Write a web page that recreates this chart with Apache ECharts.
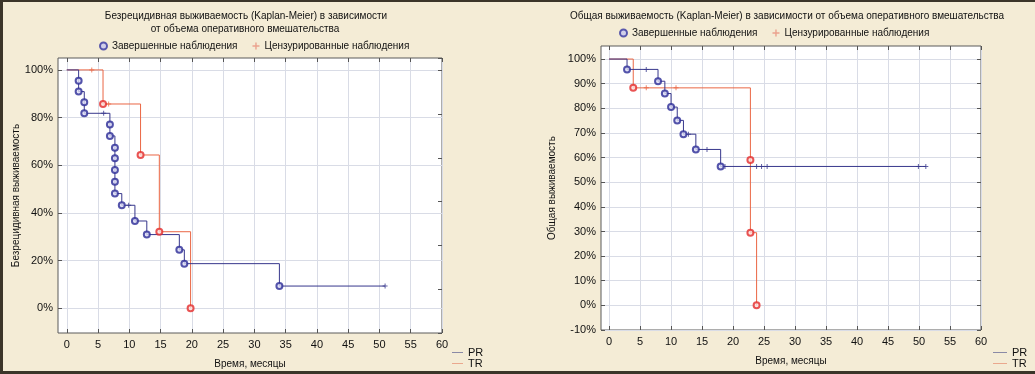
<!DOCTYPE html>
<html><head><meta charset="utf-8">
<script src="https://cdn.jsdelivr.net/npm/echarts@6/dist/echarts.min.js"></script>
<style>html,body{margin:0;padding:0;background:#f4ecd6}#c{width:1035px;height:374px}</style>
</head><body><div id="c"></div>
<script>
const FONT = '"Liberation Sans", Arial, sans-serif';

// ---- tick labels ----
const xTicks = [0, 5, 10, 15, 20, 25, 30, 35, 40, 45, 50, 55, 60];
const pfsYTicks = [0, 20, 40, 60, 80, 100];
const osYTicks = [-10, 0, 10, 20, 30, 40, 50, 60, 70, 80, 90, 100];

// ---- text ----
const pfsTitle = ['Безрецидивная выживаемость (Kaplan-Meier) в зависимости', 'от объема оперативного вмешательства'];
const osTitle = 'Общая выживаемость (Kaplan-Meier) в зависимости от объема оперативного вмешательства';
const pfsYName = 'Безрецидивная выживаемость';
const osYName = 'Общая выживаемость';
const xName = 'Время, месяцы';
const groups = ['PR', 'TR'];
const markNames = ['Завершенные наблюдения', 'Цензурированные наблюдения'];

// ---- Left: disease-free survival, % ----
const pfsPREvents = [[1.9, 95.5], [1.9, 90.9], [2.8, 86.4], [2.8, 81.8], [6.9, 77.1], [6.9, 72.3],
  [7.7, 67.3], [7.7, 62.9], [7.7, 58.0], [7.7, 53.1], [7.7, 48.1], [8.8, 43.2], [10.9, 36.6],
  [12.8, 30.9], [18.0, 24.5], [18.8, 18.7], [34.0, 9.3]];
const pfsPRCensored = [[5.9, 81.8], [9.9, 43.2], [50.9, 9.3]];
const pfsTREvents = [[5.8, 85.7], [11.8, 64.3], [14.8, 32.1], [19.8, 0]];
const pfsTRCensored = [[4.0, 100], [6.7, 85.7]];

// ---- Right: overall survival, % ----
const osPREvents = [[2.9, 95.8], [7.9, 91.0], [9.0, 86.0], [10.0, 80.5], [11.0, 75.1], [12.0, 69.5],
  [14.0, 63.3], [18.0, 56.4]];
const osPRCensored = [[6.0, 95.8], [12.8, 69.5], [15.8, 63.3], [18.7, 56.4], [23.8, 56.4], [24.6, 56.4],
  [25.5, 56.4], [49.9, 56.4], [51.1, 56.4]];
const osTREvents = [[3.9, 88.3], [22.8, 59.0], [22.8, 29.5], [23.8, 0]];
const osTRCensored = [[6.0, 88.3], [10.8, 88.3]];

const BLUE = '#37378c', RED = '#ea6644';
const PLUS = 'path://M2,0h1v2h2v1h-2v2h-1v-2h-2v-1h2z';
const TXT = { fontSize: 10, color: '#111', fontFamily: FONT };

function curve(events, censored) {
  const pts = [[0, 100]].concat(events);
  const last = censored.length ? censored[censored.length - 1] : null;
  if (last && last[0] > pts[pts.length - 1][0]) pts.push(last);
  return pts;
}

const tickStyle = { color: '#555' };

function xAxes(gi, min) {
  return [{
    gridIndex: gi, type: 'value', min: min, max: 60, position: 'bottom',
    axisLine: { show: false, onZero: false },
    axisTick: { show: true, inside: true, length: 4, customValues: xTicks, lineStyle: tickStyle },
    axisLabel: { customValues: xTicks, margin: 6, fontSize: 11, color: '#111', fontFamily: FONT },
    splitLine: { show: true, lineStyle: { color: '#d9dce6', width: 1 } },
    name: xName, nameLocation: 'middle', nameGap: 26, nameTextStyle: TXT
  }, {
    gridIndex: gi, type: 'value', min: min, max: 60, position: 'top',
    axisLine: { show: false, onZero: false },
    axisTick: { show: true, inside: true, length: 4, customValues: xTicks, lineStyle: tickStyle },
    axisLabel: { show: false }, splitLine: { show: false }
  }];
}

function yAxes(gi, min, max, ticks, name, gap, rightCfg) {
  return [{
    gridIndex: gi, type: 'value', min: min, max: max, position: 'left',
    axisLine: { show: false, onZero: false },
    axisTick: { show: true, inside: true, length: 4, customValues: ticks, lineStyle: tickStyle },
    axisLabel: { customValues: ticks, margin: 5, fontSize: 11, color: '#111', fontFamily: FONT, formatter: v => v + '%' },
    splitLine: { show: true, lineStyle: { color: '#d9dce6', width: 1 } },
    name: name, nameLocation: 'middle', nameGap: gap, nameTextStyle: TXT
  }, Object.assign({
    gridIndex: gi, type: 'value', position: 'right',
    axisLine: { show: false, onZero: false },
    axisLabel: { show: false }, splitLine: { show: false }
  }, rightCfg)];
}

function seriesFor(xi, yi, prEv, prCe, trEv, trCe) {
  const base = { xAxisIndex: xi, yAxisIndex: yi };
  return [
    Object.assign({ type: 'line', name: 'PR', step: 'end', showSymbol: false, symbol: 'none',
      data: curve(prEv, prCe), lineStyle: { color: BLUE, width: 1 }, itemStyle: { color: BLUE }, z: 3, animation: false }, base),
    Object.assign({ type: 'line', name: 'TR', step: 'end', showSymbol: false, symbol: 'none',
      data: curve(trEv, trCe), lineStyle: { color: RED, width: 1 }, itemStyle: { color: RED }, z: 2, animation: false }, base),
    Object.assign({ type: 'scatter', name: markNames[0], data: prEv, symbol: 'circle', symbolSize: 6,
      itemStyle: { color: '#dcdcf4', borderColor: '#2a2a96', borderWidth: 2 }, z: 5, animation: false }, base),
    Object.assign({ type: 'scatter', name: markNames[0], data: trEv, symbol: 'circle', symbolSize: 6,
      itemStyle: { color: '#fbe0dc', borderColor: '#e42a2a', borderWidth: 2 }, z: 5, animation: false }, base),
    Object.assign({ type: 'scatter', name: markNames[1], data: prCe, symbol: PLUS, symbolSize: 5,
      itemStyle: { color: BLUE }, z: 4, animation: false }, base),
    Object.assign({ type: 'scatter', name: markNames[1], data: trCe, symbol: PLUS, symbolSize: 5,
      itemStyle: { color: RED }, z: 4, animation: false }, base)
  ];
}

function markLegend(left, top) {
  return {
    left: left, top: top, itemWidth: 7, itemHeight: 7, itemGap: 15, selectedMode: false,
    textStyle: TXT,
    data: [
      { name: markNames[0], icon: 'circle', itemStyle: { color: '#c8c8ee', borderColor: '#3434a0', borderWidth: 2 } },
      { name: markNames[1], icon: PLUS, itemStyle: { color: '#e8907c', borderWidth: 0 } }
    ]
  };
}

function lineLegend(left, top, w) {
  return {
    left: left, top: top, orient: 'vertical', itemWidth: w, itemHeight: 1, itemGap: 0, selectedMode: false,
    padding: 0,
    textStyle: { fontSize: 11, color: '#111', fontFamily: FONT },
    data: [
      { name: groups[0], icon: 'rect', itemStyle: { color: '#8a8aa6' } },
      { name: groups[1], icon: 'rect', itemStyle: { color: '#eaa88e' } }
    ]
  };
}

const chart = echarts.init(document.getElementById('c'), null, { renderer: 'canvas' });
chart.setOption({
  backgroundColor: '#f4ecd6',
  animation: false,
  textStyle: { fontFamily: FONT },
  grid: [
    { left: 58, top: 58, width: 384, height: 275, show: true, backgroundColor: '#ffffff', borderColor: '#5a5a5a', borderWidth: 1 },
    { left: 601, top: 46, width: 380, height: 284, show: true, backgroundColor: '#ffffff', borderColor: '#5a5a5a', borderWidth: 1 }
  ],
  xAxis: xAxes(0, -1.4).concat(xAxes(1, -1.3)),
  yAxis: yAxes(0, -10.4, 105, pfsYTicks, pfsYName, 36,
      { min: 0, max: 6.28, interval: 1, axisTick: { show: true, inside: true, length: 4, lineStyle: tickStyle } })
    .concat(yAxes(1, -10, 105.3, osYTicks, osYName, 44,
      { min: -10, max: 105.3, axisTick: { show: true, inside: true, length: 4, customValues: osYTicks, lineStyle: tickStyle } })),
  legend: [markLegend(94, 36), markLegend(614, 23), lineLegend(452, 347, 11), lineLegend(993, 347, 14)],
  series: seriesFor(0, 0, pfsPREvents, pfsPRCensored, pfsTREvents, pfsTRCensored)
    .concat(seriesFor(2, 2, osPREvents, osPRCensored, osTREvents, osTRCensored)),
  graphic: [
    { type: 'text', x: 246, y: 16, style: { text: pfsTitle[0], fontSize: 10, fontFamily: FONT, fill: '#111', textAlign: 'center', textVerticalAlign: 'middle' } },
    { type: 'text', x: 245, y: 29, style: { text: pfsTitle[1], fontSize: 10, fontFamily: FONT, fill: '#111', textAlign: 'center', textVerticalAlign: 'middle' } },
    { type: 'text', x: 787, y: 16, style: { text: osTitle, fontSize: 10, fontFamily: FONT, fill: '#111', textAlign: 'center', textVerticalAlign: 'middle' } },
    { type: 'rect', shape: { x: 0, y: 0, width: 1035, height: 2 }, style: { fill: '#3b3529' }, silent: true },
    { type: 'rect', shape: { x: 0, y: 0, width: 3, height: 374 }, style: { fill: '#3b3529' }, silent: true },
    { type: 'rect', shape: { x: 0, y: 371, width: 1035, height: 3 }, style: { fill: '#3b3529' }, silent: true }
  ]
});
</script></body></html>
